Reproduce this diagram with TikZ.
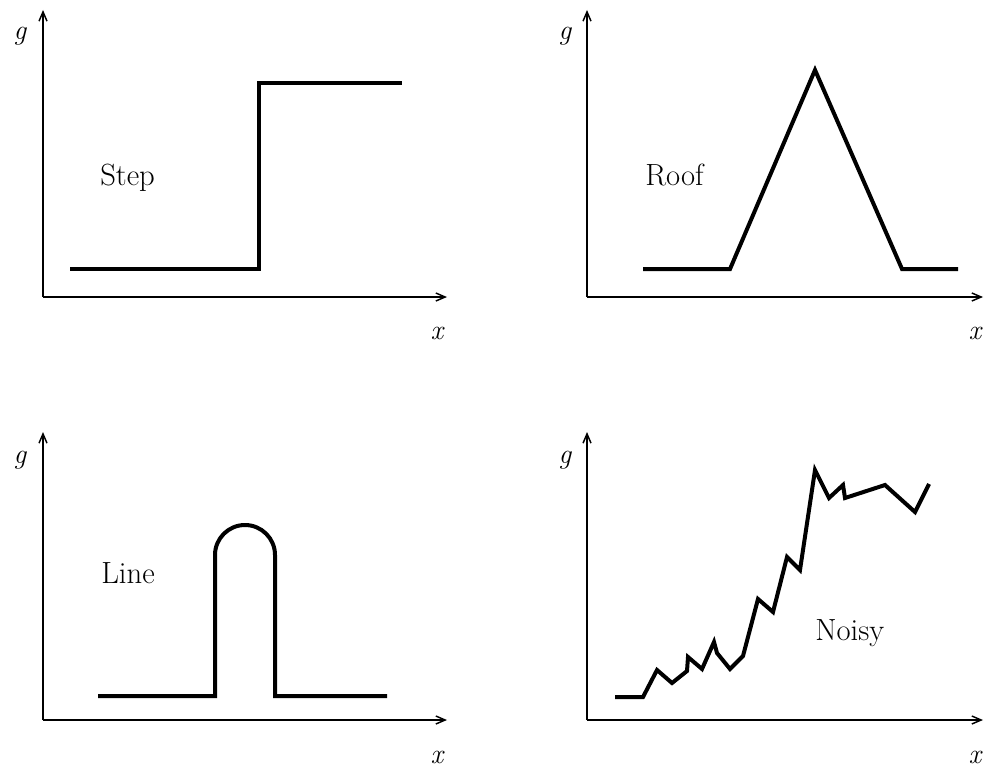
\documentclass[tikz,border=0pt]{standalone}
\usetikzlibrary{arrows.meta}
\begin{document}
\begin{tikzpicture}[x=0.75pt,y=-0.75pt,
  axis/.style={line width=1.1pt,-{Straight Barb[length=7pt,width=6pt]}},
  curve/.style={line width=3pt,line join=miter},
  lbl/.style={font=\fontsize{23}{26}\selectfont,inner sep=0pt,anchor=base west},
  axlbl/.style={font=\fontsize{21}{24}\selectfont\itshape,inner sep=0pt}]
\useasboundingbox (0,0) rectangle (984,774);
% panel 1: Step
\coordinate (o1) at (43,297);
\draw[axis] (o1) -- (43,10);
\draw[axis] (o1) -- (447,297);
\node[axlbl] (g1) at (20,36) {g};
\node[axlbl] (x1) at (437,333) {x};
\draw[curve] (70,269) -- (259,269) -- (259,83) -- (402,83);
\node[lbl] (t1) at (100,185) {Step};
% panel 2: Roof
\coordinate (o2) at (587,297);
\draw[axis] (o2) -- (587,10);
\draw[axis] (o2) -- (983,297);
\node[axlbl] (g2) at (565,36) {g};
\node[axlbl] (x2) at (975,333) {x};
\draw[curve] (643,269) -- (730,269) -- (815,70) -- (902,269) -- (958,269);
\node[lbl] (t2) at (645,185) {Roof};
% panel 3: Line
\coordinate (o3) at (43,720);
\draw[axis] (o3) -- (43,432);
\draw[axis] (o3) -- (447,720);
\node[axlbl] (g3) at (20,460) {g};
\node[axlbl] (x3) at (437,757) {x};
\draw[curve] (98,696) -- (215,696) -- (215,555) arc[start angle=180,end angle=0,x radius=30,y radius=-30] -- (275,696) -- (387,696);
\node[lbl] (t3) at (101,583) {Line};
% panel 4: Noisy
\coordinate (o4) at (587,720);
\draw[axis] (o4) -- (587,432);
\draw[axis] (o4) -- (983,720);
\node[axlbl] (g4) at (565,460) {g};
\node[axlbl] (x4) at (975,757) {x};
\draw[curve] (615,697) -- (643,697) -- (657,670) -- (672,683) -- (687,671) -- (688,657) -- (702,669) -- (714,642) -- (717,653) -- (730,669) -- (743,656) -- (758,599) -- (773,612) -- (787,557) -- (800,570) -- (815,470) -- (829,498) -- (843,485) -- (845,498) -- (885,485) -- (915,512) -- (929,484);
\node[lbl] (t4) at (815,640) {Noisy};
\end{tikzpicture}
\end{document}
